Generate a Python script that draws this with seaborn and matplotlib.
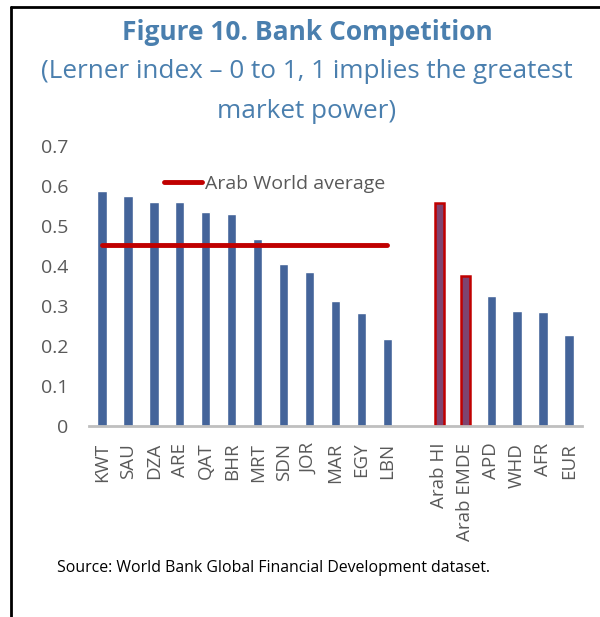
import numpy as np
import pandas as pd
import seaborn as sns
import matplotlib
matplotlib.use('Agg')
import matplotlib.pyplot as plt
from matplotlib.lines import Line2D

sns.set_theme(style='white')
plt.rcParams['font.family'] = ['Open Sans', 'DejaVu Sans']

# Lerner index values
countries = ['KWT', 'SAU', 'DZA', 'ARE', 'QAT', 'BHR', 'MRT', 'SDN', 'JOR', 'MAR', 'EGY', 'LBN']
countryVals = [0.588, 0.576, 0.560, 0.560, 0.536, 0.529, 0.468, 0.404, 0.385, 0.312, 0.282, 0.218]
groups = ['Arab HI', 'Arab EMDE', 'APD', 'WHD', 'AFR', 'EUR']
groupVals = [0.558, 0.376, 0.325, 0.288, 0.286, 0.227]
arabAvg = 0.452
highlight = ['Arab HI', 'Arab EMDE']

def main():
    order = countries + [' '] + groups
    df = pd.DataFrame({'name': countries + groups, 'lerner': countryVals + groupVals})
    blue, purple, red = '#44649A', '#7E4470', '#C00000'
    pal = {n: (purple if n in highlight else blue) for n in df['name']}
    pal[' '] = blue

    fig = plt.figure(figsize=(6, 6.17), dpi=100)
    ax = fig.add_axes([89/600, 1-426/617, 493/600, 280/617])
    sns.barplot(data=df, x='name', y='lerner', hue='name', order=order, hue_order=order,
                palette=pal, width=0.36, legend=False, ax=ax, saturation=1)

    # red outline for the Arab aggregates
    for p in ax.patches:
        idx = int(round(p.get_x() + p.get_width()/2))
        if 0 <= idx < len(order) and order[idx] in highlight:
            p.set_edgecolor(red)
            p.set_linewidth(1.8)

    ax.plot([0, len(countries)-1], [arabAvg, arabAvg], color=red, lw=3.5,
            solid_capstyle='round')
    ax.legend(handles=[Line2D([], [], color=red, lw=3.5, solid_capstyle='round')],
              labels=['Arab World average'], loc='center left',
              bbox_to_anchor=(0.117, 0.864), frameon=False, fontsize=14,
              handlelength=1.95, handletextpad=0.15, labelcolor='#595959')

    ax.set_ylim(0, 0.7)
    ax.set_xlim(-0.5, len(order)-0.5)
    ax.set_yticks(np.arange(0, 0.71, 0.1))
    ax.set_yticklabels(['0'] + ['%.1f' % v for v in np.arange(0.1, 0.71, 0.1)])
    ax.tick_params(axis='y', length=0, pad=15, labelsize=14, labelcolor='#595959')
    ax.tick_params(axis='x', length=0, pad=12, labelsize=13.5, labelcolor='#595959', rotation=90)
    ax.set_xlabel('')
    ax.set_ylabel('')
    for s in ['top', 'right', 'left']:
        ax.spines[s].set_visible(False)
    ax.spines['bottom'].set_color('#BFBFBF')
    ax.spines['bottom'].set_linewidth(2)

    title_c = '#4A7FAE'
    fig.text(307/600, 1-32/617, 'Figure 10. Bank Competition', ha='center', va='center',
             fontsize=19, fontweight='bold', color=title_c)
    fig.text(307/600, 1-72/617, '(Lerner index \u2013 0 to 1, 1 implies the greatest',
             ha='center', va='center', fontsize=18.8, color=title_c)
    fig.text(307/600, 1-111/617, 'market power)', ha='center', va='center',
             fontsize=18.8, color=title_c)
    fig.text(57/600, 1-568/617, 'Source: World Bank Global Financial Development dataset.',
             ha='left', va='center', fontsize=11.4, color='black')

    # frame edges visible in the reference (top and left)
    fig.add_artist(Line2D([11/600, 1], [1-7/617, 1-7/617], color='black', lw=2,
                          transform=fig.transFigure))
    fig.add_artist(Line2D([11/600, 11/600], [0, 1-7/617], color='black', lw=2,
                          transform=fig.transFigure))

    fig.savefig('out.png', dpi=100)

if __name__ == '__main__':
    main()
